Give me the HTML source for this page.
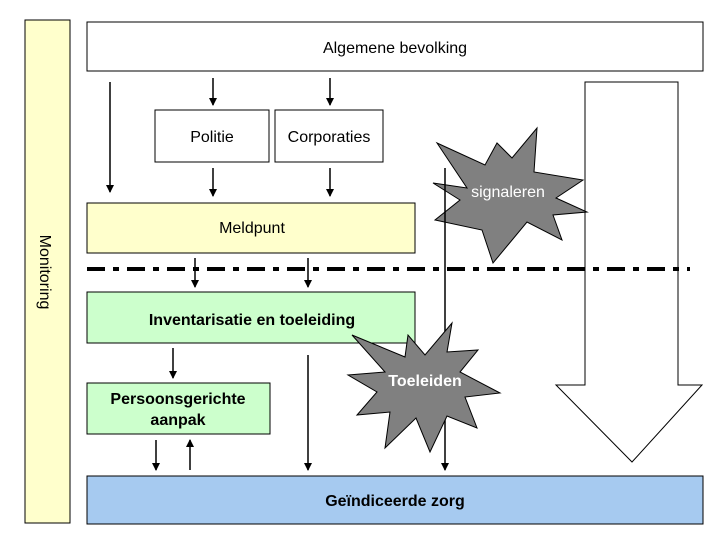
<!DOCTYPE html>
<html><head><meta charset="utf-8"><style>
body{margin:0;background:#fff;}
svg text{font-family:"Liberation Sans",Arial,sans-serif;}
</style></head><body>
<svg width="720" height="540" viewBox="0 0 720 540" xmlns="http://www.w3.org/2000/svg">
<defs><marker id="a" markerWidth="8" markerHeight="8" refX="7" refY="4" orient="auto" markerUnits="userSpaceOnUse"><path d="M0,0 L8,4 L0,8 z" fill="#000"/></marker></defs>
<rect width="720" height="540" fill="#fff"/>
<rect x="25" y="20" width="45" height="503" fill="#ffffcc" stroke="#000"/>
<text transform="translate(40,272) rotate(90)" font-size="16" text-anchor="middle">Monitoring</text>
<rect x="87" y="22" width="616" height="49" fill="#fff" stroke="#000"/>
<text x="395" y="53" font-size="16" text-anchor="middle">Algemene bevolking</text>
<rect x="155" y="110" width="114" height="52" fill="#fff" stroke="#000"/>
<text x="212" y="142" font-size="16" text-anchor="middle">Politie</text>
<rect x="275" y="110" width="108" height="52" fill="#fff" stroke="#000"/>
<text x="329" y="142" font-size="16" text-anchor="middle">Corporaties</text>
<rect x="87" y="203" width="328" height="50" fill="#ffffcc" stroke="#000"/>
<text x="252" y="233" font-size="16" text-anchor="middle">Meldpunt</text>
<rect x="87" y="292" width="328" height="51" fill="#ccffcc" stroke="#000"/>
<text x="252" y="325" font-size="16" font-weight="bold" text-anchor="middle">Inventarisatie en toeleiding</text>
<rect x="87" y="383" width="183" height="51" fill="#ccffcc" stroke="#000"/>
<text x="178" y="404" font-size="16" font-weight="bold" text-anchor="middle">Persoonsgerichte</text>
<text x="178" y="425" font-size="16" font-weight="bold" text-anchor="middle">aanpak</text>
<rect x="87" y="476" width="616" height="48" fill="#a6caf0" stroke="#000"/>
<text x="395" y="506" font-size="16" font-weight="bold" text-anchor="middle">Geïndiceerde zorg</text>
<path d="M585,82 L678,82 L678,385 L702,385 L632,462 L556,385 L585,385 Z" fill="#fff" stroke="#000"/>
<line x1="87" y1="269" x2="690" y2="269" stroke="#000" stroke-width="4" stroke-dasharray="18,8,6,8"/>
<g stroke="#000" stroke-width="1.5" marker-end="url(#a)">
<line x1="110" y1="82" x2="110" y2="192"/>
<line x1="213" y1="78" x2="213" y2="105"/>
<line x1="330" y1="78" x2="330" y2="105"/>
<line x1="213" y1="168" x2="213" y2="196"/>
<line x1="330" y1="168" x2="330" y2="196"/>
<line x1="195" y1="258" x2="195" y2="287"/>
<line x1="308" y1="258" x2="308" y2="287"/>
<line x1="173" y1="348" x2="173" y2="378"/>
<line x1="156" y1="440" x2="156" y2="470"/>
<line x1="190" y1="470" x2="190" y2="440"/>
<line x1="308" y1="355" x2="308" y2="470"/>
</g>
<polygon points="437,143 485,165 497,143 512,158 537,128 534,172 583,180 556,198 587,212 553,215 562,240 527,222 493,263 482,230 435,220 460,200 433,183 467,188" fill="#808080" stroke="#000"/>
<text x="508" y="197" font-size="16" fill="#fff" text-anchor="middle">signaleren</text>
<line x1="445" y1="168" x2="445" y2="470" stroke="#000" stroke-width="1.5" marker-end="url(#a)"/>
<polygon points="352,335 405,357 408,335 425,355 452,323 447,352 478,350 460,372 500,393 465,397 477,428 447,416 430,452 416,418 385,448 390,412 357,415 377,392 348,375 385,372" fill="#808080" stroke="#000"/>
<text x="425" y="386" font-size="16" font-weight="bold" fill="#fff" text-anchor="middle">Toeleiden</text>
</svg>
</body></html>
